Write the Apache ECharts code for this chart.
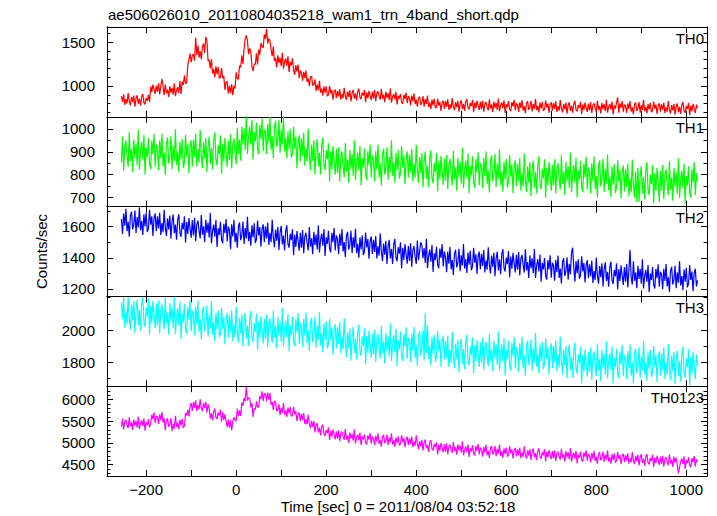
<!DOCTYPE html>
<html><head><meta charset="utf-8">
<script src="https://cdn.jsdelivr.net/npm/echarts@6/dist/echarts.min.js"></script>
<style>html,body{margin:0;padding:0;background:#fff}#c{width:717px;height:516px}</style>
</head><body><div id="c"></div>
<script>
const TITLE = 'ae506026010_20110804035218_wam1_trn_4band_short.qdp';
const X_TITLE = 'Time [sec] 0 = 2011/08/04 03:52:18';
const Y_TITLE = 'Counts/sec';
const bandNames = ['TH0', 'TH1', 'TH2', 'TH3', 'TH0123'];
const bandColors = ['#ff0000', '#00ff00', '#0000ff', '#00ffff', '#ff00ff'];
// time of first bin (sec) and bin step (sec)
const T0 = -255, DT = 2.5;

const th0 = [
 885,820,905,785,850,800,920,825,780,875,815,890,765,860,895,795,855,775,880,910,810,790,865,830,900,820,995,930,1015,960,910,1005,
 935,1030,905,995,1080,1000,895,1020,915,960,875,995,925,980,900,1030,885,950,985,920,1055,910,1050,1015,1120,1025,1040,1245,1295,1370,1270,1350,
 1364,1288,1550,1352,1460,1326,1396,1305,1448,1482,1378,1560,1518,1284,1296,1200,1308,1142,1192,1097,1224,1136,1216,1085,1104,1204,1088,1112,956,1045,1050,916,
 1004,916,1023,894,1002,972,1156,1082,1078,1232,1210,1350,1250,1424,1536,1576,1518,1362,1428,1394,1224,1170,1250,1248,1372,1244,1416,1358,1490,1454,1434,1588,
 1538,1650,1482,1540,1514,1418,1340,1450,1284,1318,1211,1350,1261,1322,1226,1377,1198,1276,1313,1230,1338,1159,1274,1232,1316,1182,1128,1239,1164,1244,1090,1176,
 1150,1060,1160,1090,1175,1045,1085,997,1105,1112,1005,1015,1075,943,1015,952,1060,925,970,890,995,925,995,885,900,998,915,955,845,937,960,860,
 945,880,965,845,910,860,980,885,840,935,875,950,825,920,955,855,915,835,940,970,870,850,925,890,955,815,925,860,945,890,840,935,
 858,953,828,918,938,883,843,968,855,900,815,935,865,920,840,970,810,875,910,845,935,790,890,855,910,815,795,900,850,925,805,885,
 860,780,890,825,915,795,845,765,860,880,785,810,885,765,850,795,890,760,810,735,845,780,855,750,755,855,775,820,715,810,835,740,
 827,762,847,727,792,742,862,767,722,817,757,832,707,802,837,737,797,717,822,852,752,732,807,772,842,702,812,747,832,777,727,822,
 737,832,707,797,817,762,722,847,742,787,702,822,752,807,727,857,712,777,812,747,837,692,792,757,827,732,712,817,767,842,722,802,
 785,705,815,750,840,720,770,690,805,825,730,755,830,710,795,740,855,725,775,700,810,745,820,715,735,835,755,800,695,790,815,720,
 805,740,825,705,770,720,840,745,700,795,735,810,685,780,815,715,775,695,800,830,730,710,785,750,820,680,790,725,810,755,705,800,
 722,817,692,782,802,747,707,832,727,772,687,807,737,792,712,842,697,762,797,732,822,677,777,742,812,870,697,802,752,827,707,787,
 772,692,802,737,827,707,757,677,792,812,717,742,817,697,782,727,842,712,762,687,797,732,807,702,722,822,742,787,682,777,802,707,
 792,727,812,692,757,707,827,732,687,782,722,797,672,767,802,702,762,682,787,817,717,697,772,737,807,667,777,712,797,742,692,787,
 750
];
const th1 = [
 853,967,817,925,949,883,835,985,859,913,811,955,871,937,841,997,823,901,943,865,973,799,919,877,961,847,823,949,889,979,835,931,
 914,818,950,872,980,836,896,800,938,962,848,878,968,824,926,860,998,842,902,812,944,866,956,830,854,974,878,932,806,920,950,836,
 954,876,978,834,912,852,996,882,828,942,870,960,810,924,966,846,918,822,948,984,864,840,930,888,972,804,936,858,960,894,834,948,
 863,977,827,935,959,893,845,1005,889,953,861,1010,931,1004,908,1064,890,968,1010,932,1040,866,986,944,1028,914,890,1016,956,1046,902,998,
 986,890,1022,944,1052,908,968,872,1010,1034,920,950,1040,896,998,932,1058,902,962,872,989,911,1001,875,889,1009,913,967,828,942,972,858,
 959,881,983,839,917,857,1001,887,818,932,860,950,800,914,956,836,896,800,926,962,842,818,908,866,937,769,901,823,925,859,799,913,
 806,920,770,878,902,836,788,938,812,866,764,908,824,890,794,950,776,854,896,818,926,752,872,830,914,800,776,902,842,932,788,884,
 866,770,902,824,932,788,848,752,890,914,800,830,920,776,878,812,950,794,854,764,896,818,908,782,806,926,830,884,758,872,902,788,
 889,811,913,769,847,787,931,817,763,877,805,895,745,859,901,781,840,744,870,906,786,762,852,810,894,726,858,780,882,816,756,870,
 772,886,736,844,868,802,754,904,778,832,730,874,790,856,760,916,742,820,862,784,892,718,838,796,880,766,742,868,808,898,754,850,
 836,740,872,794,902,758,818,722,860,884,770,800,890,746,848,782,911,755,815,725,857,779,869,743,767,887,791,845,719,833,863,749,
 849,771,873,729,807,747,891,777,723,837,765,855,705,819,861,741,813,717,843,879,759,735,825,783,867,699,831,753,855,789,729,843,
 753,867,717,825,849,783,735,885,759,813,711,855,771,837,741,897,723,801,843,765,873,699,819,777,861,747,723,849,789,879,735,831,
 814,718,850,772,880,736,796,700,838,862,748,778,868,724,826,760,888,732,792,702,834,756,846,720,744,864,768,822,696,810,840,726,
 824,746,848,704,782,722,866,752,698,812,680,830,680,794,836,716,788,692,818,854,734,710,800,758,842,674,806,728,830,764,680,818,
 728,842,692,800,824,758,710,860,734,788,686,830,746,812,716,872,698,776,818,740,848,674,794,752,836,722,698,824,764,854,710,806,
 770
];
const th2 = [
 1649,1553,1685,1607,1715,1571,1631,1535,1673,1697,1583,1613,1703,1559,1661,1595,1725,1577,1637,1547,1679,1601,1691,1565,1589,1709,1613,1667,1541,1655,1685,1571,
 1666,1588,1690,1546,1624,1564,1708,1594,1540,1654,1582,1672,1522,1636,1678,1558,1613,1517,1643,1679,1559,1535,1625,1583,1667,1499,1631,1553,1655,1589,1529,1643,
 1543,1657,1507,1615,1639,1573,1525,1675,1549,1603,1501,1645,1561,1627,1531,1687,1493,1571,1613,1535,1643,1469,1589,1547,1631,1517,1493,1619,1559,1649,1505,1601,
 1579,1455,1615,1537,1645,1501,1561,1465,1603,1627,1513,1543,1633,1489,1591,1525,1663,1507,1567,1477,1609,1531,1621,1495,1519,1639,1543,1597,1471,1585,1615,1501,
 1602,1524,1626,1482,1560,1500,1644,1530,1468,1582,1510,1600,1450,1564,1606,1486,1543,1447,1573,1609,1489,1465,1555,1513,1584,1416,1548,1470,1572,1506,1446,1560,
 1465,1579,1429,1537,1561,1495,1447,1597,1471,1525,1423,1567,1483,1549,1453,1609,1435,1513,1555,1477,1585,1411,1531,1489,1573,1459,1435,1561,1501,1591,1447,1543,
 1519,1423,1555,1477,1585,1441,1501,1405,1543,1567,1453,1483,1573,1429,1531,1465,1586,1430,1490,1400,1532,1454,1544,1418,1442,1562,1466,1520,1394,1508,1538,1424,
 1516,1438,1540,1396,1474,1414,1558,1444,1378,1492,1420,1510,1360,1474,1516,1396,1456,1360,1486,1522,1402,1378,1468,1426,1500,1332,1464,1386,1488,1422,1362,1476,
 1379,1493,1343,1451,1475,1409,1361,1511,1385,1439,1500,1481,1397,1463,1367,1523,1333,1411,1453,1375,1483,1309,1429,1387,1471,1357,1333,1459,1399,1489,1345,1441,
 1404,1308,1440,1362,1470,1326,1386,1290,1428,1452,1338,1368,1458,1314,1416,1350,1488,1332,1392,1302,1434,1356,1446,1320,1344,1464,1368,1422,1296,1410,1440,1326,
 1426,1348,1450,1306,1384,1324,1468,1354,1300,1414,1342,1432,1282,1396,1438,1318,1390,1294,1420,1456,1336,1312,1402,1360,1444,1276,1408,1330,1432,1366,1306,1420,
 1323,1437,1287,1395,1419,1353,1305,1455,1319,1373,1271,1415,1331,1397,1301,1457,1271,1349,1391,1313,1421,1247,1367,1325,1398,1284,1260,1386,1326,1416,1272,1368,
 1349,1253,1385,1307,1415,1271,1331,1235,1373,1397,1283,1313,1403,1259,1361,1295,1433,1465,1337,1247,1379,1301,1391,1265,1289,1409,1313,1367,1241,1355,1385,1271,
 1359,1281,1383,1239,1317,1257,1401,1287,1233,1347,1275,1365,1215,1329,1371,1251,1310,1214,1340,1376,1256,1232,1322,1280,1364,1196,1328,1250,1352,1286,1226,1340,
 1246,1360,1210,1318,1450,1276,1228,1378,1252,1306,1204,1348,1264,1330,1234,1390,1203,1281,1323,1245,1353,1179,1299,1257,1341,1227,1203,1329,1269,1359,1215,1311,
 1294,1198,1330,1252,1360,1216,1276,1180,1318,1342,1228,1258,1348,1204,1306,1240,1378,1222,1282,1192,1324,1246,1336,1210,1234,1354,1258,1312,1186,1300,1330,1216,
 1255
];
const th3 = [
 2172,2068,2204,2012,2116,2036,2205,2076,2004,2156,2060,2180,1980,2132,2188,2028,2124,1996,2164,2205,2052,2020,2140,2084,2196,1972,2148,2044,2180,2092,2012,2164,
 2029,2181,1981,2125,2157,2069,2005,2205,2037,2109,1973,2165,2053,2141,2013,2205,1976,2080,2136,2032,2176,1944,2104,2048,2160,2008,1976,2144,2064,2184,1992,2120,
 2094,1966,2142,2038,2182,1990,2070,1942,2112,2144,1992,2032,2152,1960,2096,2008,2179,1971,2051,1931,2107,2003,2123,1955,1977,2137,2009,2081,1913,2065,2105,1953,
 2090,1986,2122,1930,2034,1954,2146,1994,1922,2074,1978,2098,1898,2050,2106,1946,2029,1901,2069,2117,1957,1925,2045,1989,2101,1877,2053,1949,2085,1997,1917,2069,
 1944,2096,1896,2040,2072,1984,1920,2120,1952,2024,1888,2080,1968,2056,1928,2136,1899,2003,2059,1955,2099,1867,2027,1971,2083,1931,1899,2067,1987,2107,1915,2043,
 2022,1894,2070,1966,2110,1918,1998,1870,2044,2076,1924,1964,2084,1892,2028,1940,2112,1904,1984,1864,2040,1936,2056,1888,1910,2070,1942,2014,1846,1998,2038,1886,
 2017,1913,2049,1857,1961,1881,2073,1921,1834,1986,1890,2010,1810,1962,2018,1858,1944,1816,1984,2032,1872,1840,1960,1904,2011,1787,1963,1859,1995,1907,1827,1979,
 1849,2001,1801,1945,1977,1889,1825,2025,1857,1929,1793,1985,1873,1961,1833,2041,1809,1913,1969,1865,2009,1777,1937,1881,1993,1841,1809,1977,1897,2017,1825,1953,
 1930,1802,1978,1874,2018,1826,1906,1778,1962,1994,1842,1882,2002,1810,2104,1858,2029,1821,1901,1781,1957,1853,1973,1805,1837,1997,1869,1941,1773,1925,1965,1813,
 1932,1828,1964,1772,1876,1796,1988,1836,1764,1916,1820,1940,1740,1892,1948,1788,1884,1756,1924,1972,1812,1780,1900,1844,1956,1732,1908,1804,1940,1852,1772,1924,
 1800,1952,1752,1896,1928,1840,1776,1976,1808,1880,1744,1936,1824,1912,1784,1992,1750,1854,1910,1806,1950,1718,1878,1822,1934,1782,1750,1918,1838,1958,1766,1894,
 1870,1742,1918,1814,1958,1766,1846,1718,1902,1934,1782,1822,1942,1750,1886,1798,1982,1774,1854,1734,1910,1806,1926,1758,1790,1950,1822,1894,1726,1878,1918,1766,
 1904,1800,1936,1744,1848,1768,1960,1808,1726,1878,1782,1902,1702,1854,1910,1750,1834,1706,1874,1922,1762,1730,1850,1794,1896,1672,1848,1744,1880,1792,1712,1864,
 1740,1892,1692,1836,1868,1780,1716,1916,1748,1820,1684,1876,1764,1852,1724,1932,1700,1804,1860,1756,1900,1668,1828,1772,1884,1732,1700,1868,1788,1908,1716,1844,
 1822,1694,1870,1766,1910,1718,1798,1670,1854,1886,1734,1774,1894,1702,1838,1750,1934,1726,1806,1686,1862,1758,1878,1710,1742,1902,1774,1846,1678,1830,1870,1718,
 1858,1754,1890,1698,1802,1722,1914,1762,1690,1842,1746,1866,1666,1818,1874,1714,1810,1682,1850,1898,1738,1706,1826,1770,1882,1658,1834,1730,1866,1778,1698,1850,
 1780
];
const th0123 = [
 5370,5560,5310,5490,5530,5420,5340,5590,5380,5470,5300,5540,5400,5510,5350,5610,5320,5450,5520,5390,5570,5280,5480,5410,5550,5360,5440,5650,5550,5700,5460,5620,
 5600,5440,5660,5530,5710,5470,5570,5295,5525,5565,5375,5425,5575,5270,5440,5330,5625,5365,5465,5315,5535,5405,5555,5345,5385,5690,5630,5770,5610,5840,5920,5740,
 5940,5810,5980,5740,5870,5770,6010,5820,5730,5920,5800,5950,5700,5890,5810,5560,5680,5520,5730,5790,5590,5550,5700,5630,5770,5490,5710,5530,5660,5510,5370,5530,
 5350,5530,5290,5500,5590,5530,5500,5790,5620,5750,5620,5930,5860,6040,5960,6290,5980,6040,6030,5820,5920,5600,5790,5770,5960,5820,5830,6080,6010,6190,5970,6140,
 6130,5960,6160,6000,6150,5880,5950,5760,5960,5960,5730,5760,5890,5640,5805,5690,5920,5655,5750,5600,5815,5680,5830,5610,5640,5830,5660,5730,5500,5670,5700,5500,
 5670,5530,5690,5435,5550,5430,5650,5445,5340,5510,5370,5505,5240,5410,5460,5245,5350,5175,5370,5420,5210,5160,5300,5225,5360,5070,5280,5145,5310,5190,5080,5265,
 5100,5290,5040,5220,5260,5150,5070,5320,5080,5170,5000,5240,5100,5210,5050,5310,4990,5120,5190,5060,5240,4950,5150,5080,5195,5005,4965,5175,5075,5225,4985,5145,
 5105,4945,5165,5035,5215,4975,5075,4915,5145,5185,4995,5045,5195,4955,5125,5015,5220,4960,5060,4910,5130,5000,5150,4940,4980,5180,5020,5110,4900,5090,5140,4950,
 5105,4975,5145,4905,5035,4935,5175,4985,4850,5040,4920,5070,4820,5010,5080,4880,4955,4795,5005,5065,4865,4825,4975,4905,5015,4735,4955,4825,4995,4885,4785,4975,
 4800,4990,4740,4920,4960,4850,4770,5020,4810,4900,4730,4970,4830,4940,4780,5040,4715,4845,4915,4785,4965,4675,4875,4805,4945,4755,4715,4925,4825,4975,4735,4895,
 4845,4685,4905,4775,4955,4715,4815,4655,4885,4925,4735,4785,4935,4695,4865,4755,4965,4705,4805,4655,4875,4745,4895,4685,4725,4925,4765,4855,4645,4835,4885,4695,
 4850,4720,4890,4650,4780,4680,4920,4730,4640,4830,4710,4860,4610,4800,4870,4670,4765,4605,4815,4875,4675,4635,4785,4715,4855,4575,4795,4665,4835,4725,4625,4815,
 4642,4832,4582,4762,4802,4692,4612,4862,4652,4742,4572,4812,4672,4782,4622,4882,4570,4700,4770,4640,4820,4530,4730,4660,4800,4610,4570,4780,4680,4830,4590,4750,
 4710,4550,4770,4640,4820,4580,4680,4520,4750,4790,4600,4650,4800,4560,4730,4620,4830,4570,4670,4520,4740,4610,4760,4550,4590,4790,4630,4720,4510,4700,4750,4560,
 4720,4590,4760,4520,4650,4550,4790,4600,4510,4700,4580,4730,4480,4670,4740,4540,4635,4475,4685,4745,4545,4505,4655,4585,4725,4445,4665,4535,4705,4595,4495,4685,
 4515,4705,4455,4635,4675,4565,4485,4735,4525,4615,4445,4685,4545,4655,4495,4300,4440,4570,4640,4510,4690,4400,4600,4530,4670,4480,4440,4650,4550,4700,4460,4620,
 4560
];
const bandValues = [th0, th1, th2, th3, th0123];

// axes
const xRange = [-287, 1046];
const xTickValues = [-200, -100, 0, 100, 200, 300, 400, 500, 600, 700, 800, 900, 1000];
const xLabelValues = [-200, 0, 200, 400, 600, 800, 1000];
const yRanges = [[649, 1672], [660, 1053], [1152, 1729], [1653, 2208], [4238, 6308]];
const yMajor = [[1000, 1500], [700, 800, 900, 1000], [1200, 1400, 1600], [1800, 2000], [4500, 5000, 5500, 6000]];
const yMinor = [
  [700, 800, 900, 1100, 1200, 1300, 1400, 1600],
  [750, 850, 950, 1050],
  [1300, 1500, 1700],
  [1700, 1900, 2100, 2200],
  [4300, 4400, 4600, 4700, 4800, 4900, 5100, 5200, 5300, 5400, 5600, 5700, 5800, 5900, 6100, 6200, 6300]
];

const FONT = '"Liberation Sans", Arial, Helvetica, sans-serif';
const L = 107, W = 600, TOP = 27, H = 89.8;

const chart = echarts.init(document.getElementById('c'), null, {renderer: 'svg'});
const grid = [], xAxis = [], yAxis = [], series = [], graphic = [];
const axisLine = {show: true, onZero: false, lineStyle: {color: '#000', width: 1}};
const tickStyle = {color: '#000', width: 1};
const lab = {fontSize: 15, color: '#000', fontFamily: FONT};

bandNames.forEach((name, p) => {
  const top = TOP + p * H;
  grid.push({left: L, width: W, top: top, height: H});
  ['bottom', 'top'].forEach(pos => {
    xAxis.push({
      type: 'value', gridIndex: p, position: pos, min: xRange[0], max: xRange[1],
      axisLine: axisLine,
      axisTick: {show: true, inside: true, length: 6, customValues: xTickValues, lineStyle: tickStyle},
      axisLabel: Object.assign({show: pos === 'bottom' && p === 4, customValues: xLabelValues, margin: 6,
        formatter: v => String(v).replace('-', '\u2212')}, lab),
      splitLine: {show: false}
    });
  });
  ['left', 'right'].forEach(pos => {
    [[yMajor[p], 6], [yMinor[p], 3.5]].forEach(([vals, len], k) => {
      yAxis.push({
        type: 'value', gridIndex: p, position: pos, min: yRanges[p][0], max: yRanges[p][1],
        axisLine: axisLine,
        axisTick: {show: true, inside: true, length: len, customValues: vals, lineStyle: tickStyle},
        axisLabel: Object.assign({show: pos === 'left' && k === 0, customValues: vals, margin: 12,
          formatter: v => String(v)}, lab),
        splitLine: {show: false}
      });
    });
  });
  series.push({
    type: 'line', name: name, xAxisIndex: 2 * p, yAxisIndex: 4 * p,
    data: bandValues[p].map((v, i) => [T0 + i * DT, v]),
    showSymbol: false, symbol: 'none', silent: true, sampling: null,
    lineStyle: {color: bandColors[p], width: 1.2},
    itemStyle: {color: bandColors[p]}
  });
  graphic.push({type: 'text', x: 704, y: top + 11,
    style: {text: name, fontSize: 15, fontFamily: FONT, fill: '#000', align: 'right', verticalAlign: 'middle'}});
});

graphic.push({type: 'text', x: 108, y: 14.5,
  style: {text: TITLE, fontSize: 15, fontFamily: FONT, fill: '#000', align: 'left', verticalAlign: 'middle'}});
graphic.push({type: 'text', x: 398, y: 506,
  style: {text: X_TITLE, fontSize: 15, fontFamily: FONT, fill: '#000', align: 'center', verticalAlign: 'middle'}});
graphic.push({type: 'text', x: 41, y: 251.5, rotation: Math.PI / 2,
  style: {text: Y_TITLE, fontSize: 15, fontFamily: FONT, fill: '#000', align: 'center', verticalAlign: 'middle'}});

chart.setOption({
  animation: false,
  backgroundColor: '#fff',
  grid, xAxis, yAxis, series, graphic
});
</script>
</body></html>
